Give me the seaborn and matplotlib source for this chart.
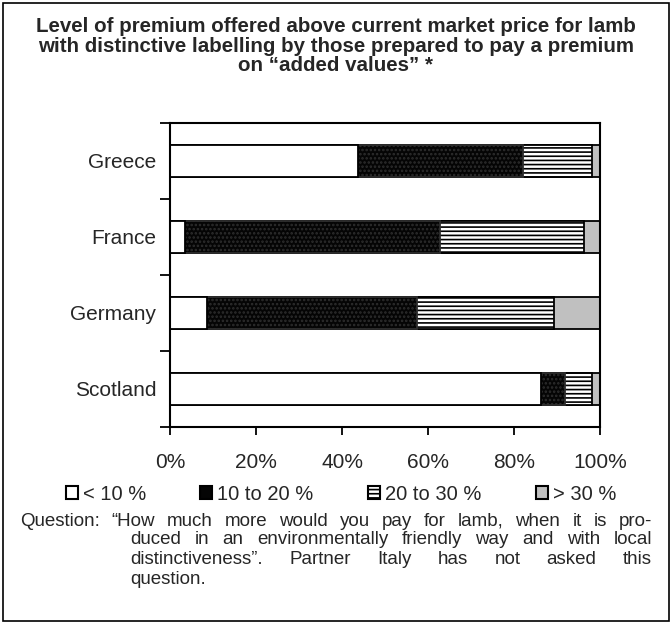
import numpy as np
import pandas as pd
import matplotlib
matplotlib.use("Agg")
import matplotlib.pyplot as plt
import seaborn as sns
from matplotlib.patches import Patch, Rectangle
from matplotlib.ticker import FixedLocator, FuncFormatter

# ---------------- data ----------------
countries = ["Greece", "France", "Germany", "Scotland"]
lt10 = [43.7, 3.5, 8.5, 86.2]
p10_20 = [38.5, 59.2, 49.0, 5.6]
p20_30 = [15.9, 33.5, 31.8, 6.3]
gt30 = [1.9, 3.8, 10.7, 1.9]
series_labels = ["< 10 %", "10 to 20 %", "20 to 30 %", "> 30 %"]
xticks = [0, 20, 40, 60, 80, 100]

title = ("Level of premium offered above current market price for lamb\n"
         "with distinctive labelling by those prepared to pay a premium\n"
         "on \u201cadded values\u201d *")
note_lines = [
    "Question: \u201cHow much more would you pay for lamb, when it is pro-",
    "duced in an environmentally friendly way and with local",
    "distinctiveness\u201d. Partner Italy has not asked this",
    "question.",
]

# ---------------- style ----------------
sns.set_style("white")
plt.rcParams["font.family"] = ["Liberation Sans", "DejaVu Sans"]
plt.rcParams["hatch.linewidth"] = 1.2

df = pd.DataFrame({"country": countries, "a": lt10, "b": p10_20,
                   "c": p20_30, "d": gt30})
df["c1"] = df["a"]
df["c2"] = df["c1"] + df["b"]
df["c3"] = df["c2"] + df["c"]
df["c4"] = df["c3"] + df["d"]

W, H = 672, 624
fig = plt.figure(figsize=(W / 100, H / 100), dpi=100)
ax = fig.add_axes([170 / W, 1 - 427 / H, 430 / W, 304 / H])

styles = [  # (cum column, face, hatch, edge)
    ("c4", "#c0c0c0", None, "black"),
    ("c3", "white", "----", "black"),
    ("c2", "#050505", "....", "#2e2e2e"),
    ("c1", "white", None, "black"),
]
for col, face, hatch, edge in styles:
    sns.barplot(data=df, x=col, y="country", order=countries, orient="h",
                color=face, saturation=1, width=0.42, edgecolor=edge,
                linewidth=1.3, ax=ax)
    cont = ax.containers[-1]
    if hatch:
        for p in cont:
            p.set_hatch(hatch)

ax.set_xlim(0, 100)
ax.set_ylim(3.5, -0.5)
ax.set_xlabel("")
ax.set_ylabel("")
ax.xaxis.set_major_locator(FixedLocator(xticks))
ax.xaxis.set_major_formatter(FuncFormatter(lambda v, p: f"{v:.0f}%"))
ax.tick_params(axis="x", which="major", direction="out", length=6, width=1.3,
               labelsize=15, pad=13, color="black", bottom=True)
# y: ticks at category boundaries, labels at centres
ax.set_yticks(np.arange(-0.5, 4.0, 1.0))
ax.set_yticklabels([])
ax.set_yticks(np.arange(len(countries)), minor=True)
ax.set_yticklabels(countries, minor=True)
ax.tick_params(axis="y", which="major", direction="out", length=7, width=1.3,
               left=True, color="black")
ax.tick_params(axis="y", which="minor", length=0, labelsize=15, pad=10)
for s in ax.spines.values():
    s.set_visible(True)
    s.set_color("black")
    s.set_linewidth(1.5)

# legend
handles = [
    Patch(facecolor="white", edgecolor="black", linewidth=1.5),
    Patch(facecolor="#050505", edgecolor="black", linewidth=1.5),
    Patch(facecolor="white", edgecolor="black", hatch="----", linewidth=1.5),
    Patch(facecolor="#c0c0c0", edgecolor="black", linewidth=1.5),
]
fig.legend(handles, series_labels, loc="center", ncol=4,
           bbox_to_anchor=(0.5 + 5 / W, 1 - 494 / H), frameon=False,
           fontsize=14.5, handlelength=0.6, handleheight=0.6,
           handletextpad=0.25, columnspacing=2.7, borderaxespad=0)

# title
fig.text(0.5, 1 - 46 / H, title, ha="center", va="center", fontsize=14.8,
         fontweight="bold", linespacing=1.02)

# figure frame
fig.patches.append(Rectangle((3 / W, 3 / H), 1 - 6 / W, 1 - 6 / H,
                             transform=fig.transFigure, fill=False,
                             edgecolor="black", linewidth=1.2))

# justified footnote with hanging indent
fig.canvas.draw()
renderer = fig.canvas.get_renderer()
fs_note = 13.5
line_specs = [(20, 652, 521, True), (130, 652, 540, True),
              (130, 652, 560, True), (130, 652, 579, False)]
sp = fig.text(0, 0, "a a", fontsize=fs_note)
sp2 = fig.text(0, 0, "aa", fontsize=fs_note)
space_w = (sp.get_window_extent(renderer).width
           - sp2.get_window_extent(renderer).width)
sp.remove()
sp2.remove()
for text, (x0, x1, yc, just) in zip(note_lines, line_specs):
    words = text.split(" ")
    tobjs = [fig.text(0, 1 - yc / H, w, fontsize=fs_note, ha="left",
                      va="center") for w in words]
    widths = [t.get_window_extent(renderer).width for t in tobjs]
    if just and len(words) > 1:
        gap = ((x1 - x0) - sum(widths)) / (len(words) - 1)
    else:
        gap = space_w
    x = x0
    for t, w in zip(tobjs, widths):
        t.set_x(x / W)
        x += w + gap

fig.savefig("out.png", dpi=100)
